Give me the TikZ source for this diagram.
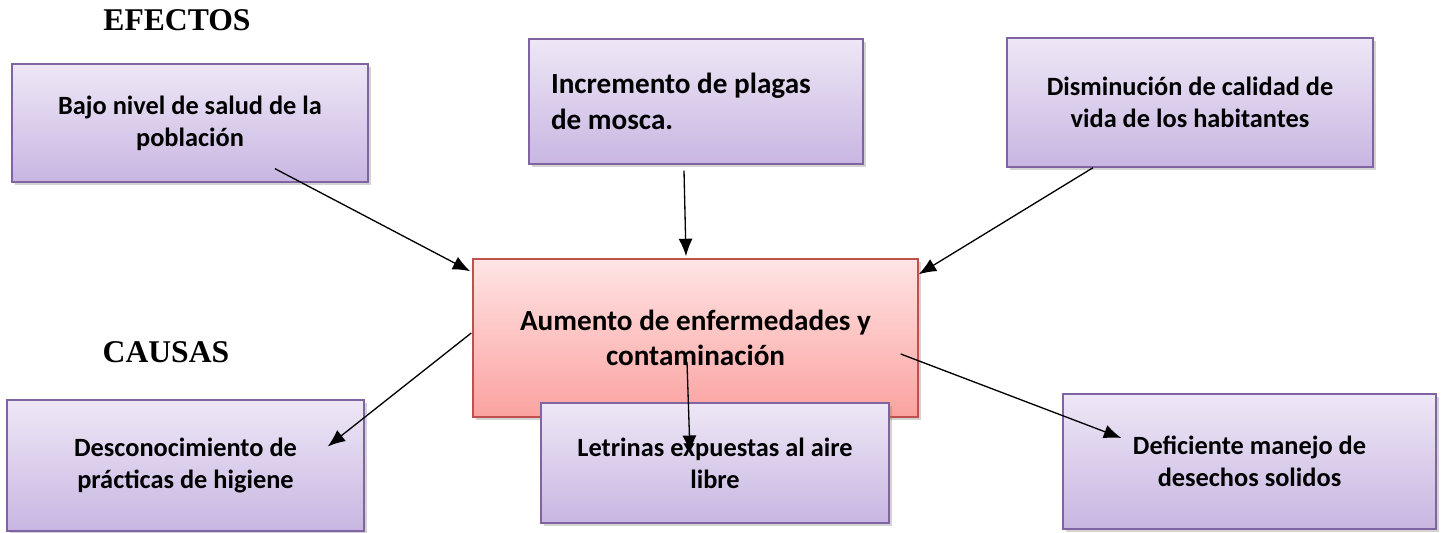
\documentclass[tikz,border=0pt]{standalone}
\usepackage{fontspec}
\setmainfont{Carlito}
\newfontfamily\titlefont{Liberation Serif}
\usetikzlibrary{shapes, arrows.meta, positioning, shadows}
\definecolor{lilatop}{RGB}{238,231,246}
\definecolor{lilabot}{RGB}{200,182,226}
\definecolor{lilaline}{RGB}{128,100,162}
\definecolor{rojotop}{RGB}{255,228,228}
\definecolor{rojobot}{RGB}{250,162,160}
\definecolor{rojoline}{RGB}{192,80,77}
\tikzset{
	lilabox/.style={draw=lilaline, line width=0.8pt,
		top color=lilatop, bottom color=lilabot,
		drop shadow={opacity=0.35, shadow xshift=0.06cm, shadow yshift=-0.06cm},
		font=\bfseries\fontsize{15}{18.3}\selectfont,
		align=center, inner sep=0pt},
	rojobox/.style={lilabox, draw=rojoline,
		top color=rojotop, bottom color=rojobot,
		font=\bfseries\fontsize{16.6}{20.3}\selectfont},
	titulo/.style={font=\titlefont\bfseries\fontsize{18}{21}\selectfont},
	flecha/.style={-{Latex[length=3.5mm,width=2.8mm]}, line width=0.75pt}
}
\begin{document}
\begin{tikzpicture}
	\useasboundingbox (0,0) rectangle (28.9,10.66);
	% titles
	\node[titulo] (efectos) at (3.54,10.26) {EFECTOS};
	\node[titulo] (causas) at (3.32,3.62) {CAUSAS};
	% effects
	\node[lilabox,
	minimum width=7.12cm,
	minimum height=2.36cm] (bajo) at (3.80,8.20) {
	Bajo nivel de salud de la\\población
	};
	\node[lilabox,
	minimum width=6.68cm,
	minimum height=2.50cm,
	font=\bfseries\fontsize{16.6}{20.3}\selectfont,
	align=left] (plagas) at (13.92,8.63) {
	\makebox[5.80cm][l]{Incremento de plagas}\\de mosca.
	};
	\node[lilabox,
	minimum width=7.32cm,
	minimum height=2.58cm] (calidad) at (23.80,8.61) {
	Disminución de calidad de\\vida de los habitantes
	};
	% central problem
	\node[rojobox,
	minimum width=8.90cm,
	minimum height=3.16cm] (aumento) at (13.91,3.90) {
	Aumento de enfermedades y\\contaminación
	};
	% causes
	\node[lilabox,
	minimum width=7.14cm,
	minimum height=2.62cm] (higiene) at (3.71,1.35) {
	Desconocimiento de\\prácticas de higiene
	};
	\node[lilabox,
	minimum width=6.96cm,
	minimum height=2.40cm] (letrinas) at (14.30,1.40) {
	Letrinas expuestas al aire\\libre
	};
	\node[lilabox,
	minimum width=7.46cm,
	minimum height=2.70cm] (desechos) at (24.99,1.43) {
	Deficiente manejo de\\desechos solidos
	};
	% Arrows
	\draw[flecha] ([xshift=1.70cm,yshift=0.28cm]bajo.south) -- ([xshift=-0.04cm,yshift=-0.26cm]aumento.north west);
	\draw[flecha] ([xshift=-0.24cm,yshift=-0.12cm]plagas.south) -- ([xshift=-0.19cm,yshift=0.04cm]aumento.north);
	\draw[flecha] ([xshift=-1.94cm]calidad.south) -- ([yshift=-0.32cm]aumento.north east);
	\draw[flecha] ([xshift=-0.02cm,yshift=0.10cm]aumento.west) -- ([xshift=-0.74cm,yshift=0.38cm]higiene.east);
	\draw[flecha] ([xshift=-0.17cm,yshift=-0.48cm]aumento.center) -- ([xshift=-0.50cm,yshift=0.20cm]letrinas.center);
	\draw[flecha] ([xshift=-0.36cm,yshift=-0.32cm]aumento.east) -- ([xshift=1.18cm,yshift=0.47cm]desechos.west);
\end{tikzpicture}
\end{document}
